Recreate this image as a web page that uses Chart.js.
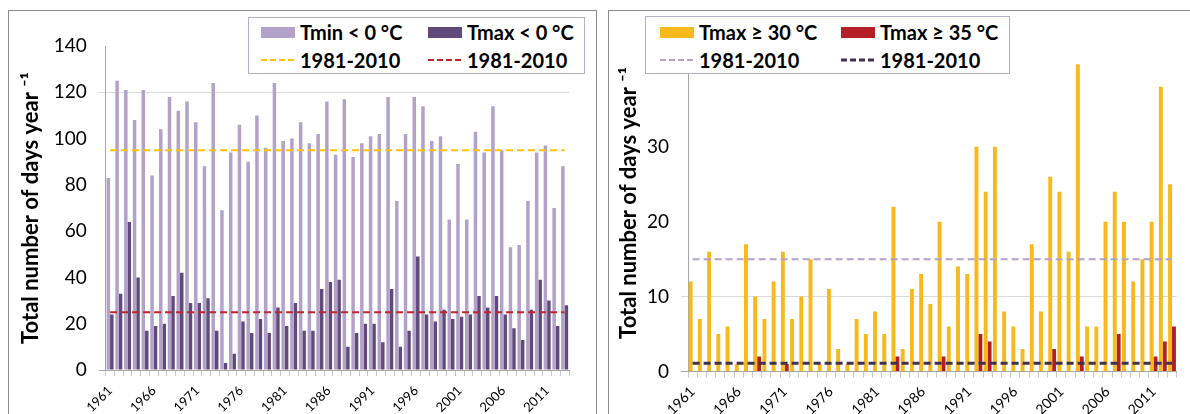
<!DOCTYPE html>
<html>
<head>
<meta charset="utf-8">
<script src="https://cdn.jsdelivr.net/npm/chart.js@4.4.0/dist/chart.umd.min.js"></script>
<style>
body { margin:0; background:#fff; width:1190px; height:414px; overflow:hidden; position:relative; font-family:Lato, sans-serif; }
.frame { position:absolute; border:1px solid #8c8c8c; box-sizing:border-box; }
#frameL { left:8px; top:10px; width:589px; height:430px; }
#frameR { left:608px; top:10px; width:600px; height:430px; }
canvas { position:absolute; }
#cL { left:9px; top:11px; }
#cR { left:609px; top:11px; }
.legend { position:absolute; background:#fff; border:1px solid #b7accb; box-sizing:border-box; font:bold 20px Lato, sans-serif; color:#000; }
.item { position:absolute; height:24px; display:flex; align-items:center; white-space:nowrap; }
.sw { width:34px; height:11px; margin-right:5px; }
.item svg { margin-right:5px; }
</style>
</head>
<body>
<div class="frame" id="frameL"></div>
<div class="frame" id="frameR"></div>
<canvas id="cL" width="586" height="403"></canvas>
<canvas id="cR" width="581" height="403"></canvas>

<div class="legend" style="left:248px;top:17px;width:337px;height:57px;">
  <div class="item" style="left:12px;top:2px;"><div class="sw" style="background:#B3A2C7"></div>Tmin &lt; 0 °C</div>
  <div class="item" style="left:179px;top:2px;"><div class="sw" style="background:#604A7B"></div>Tmax &lt; 0 °C</div>
  <div class="item" style="left:12px;top:30px;"><svg width="34" height="4"><line x1="0" y1="2" x2="34" y2="2" stroke="#FFC000" stroke-width="2" stroke-dasharray="6,3"/></svg>1981-2010</div>
  <div class="item" style="left:179px;top:30px;"><svg width="34" height="4"><line x1="0" y1="2" x2="34" y2="2" stroke="#C0262E" stroke-width="2" stroke-dasharray="6,3"/></svg>1981-2010</div>
</div>
<div class="legend" style="left:645px;top:16px;width:365px;height:58px;">
  <div class="item" style="left:14px;top:3px;"><div class="sw" style="background:#F7B91C"></div>Tmax ≥ 30 °C</div>
  <div class="item" style="left:195px;top:3px;"><div class="sw" style="background:#B41F26"></div>Tmax ≥ 35 °C</div>
  <div class="item" style="left:14px;top:31px;"><svg width="34" height="4"><line x1="0" y1="2" x2="34" y2="2" stroke="#B3A2C7" stroke-width="2" stroke-dasharray="6,3"/></svg>1981-2010</div>
  <div class="item" style="left:195px;top:31px;"><svg width="34" height="4"><line x1="0" y1="2" x2="34" y2="2" stroke="#403152" stroke-width="3" stroke-dasharray="6,3"/></svg>1981-2010</div>
</div>

<script>
years = ['1961','1962','1963','1964','1965','1966','1967','1968','1969','1970',
         '1971','1972','1973','1974','1975','1976','1977','1978','1979','1980',
         '1981','1982','1983','1984','1985','1986','1987','1988','1989','1990',
         '1991','1992','1993','1994','1995','1996','1997','1998','1999','2000',
         '2001','2002','2003','2004','2005','2006','2007','2008','2009','2010',
         '2011','2012','2013']

// frost days (Tmin < 0) and ice days (Tmax < 0)
tminBelow0 = [83,125,121,108,121,84,104,118,112,116,
              107,88,124,69,94,106,90,110,96,124,
              99,100,107,98,102,116,93,117,92,98,
              101,102,118,73,102,118,114,99,101,65,
              89,65,103,94,114,95,53,54,73,94,
              97,70,88]
tmaxBelow0 = [24,33,64,40,17,19,20,32,42,29,
              29,31,17,3,7,21,16,22,16,27,
              19,29,17,17,35,38,39,10,16,20,
              20,12,35,10,17,49,24,21,26,22,
              23,24,32,27,32,24,18,13,26,39,
              30,19,28]

// summer days (Tmax >= 30) and hot days (Tmax >= 35)
tmaxAbove30 = [12,7,16,5,6,1,17,10,7,12,
               16,7,10,15,1,11,3,1,7,5,
               8,5,22,3,11,13,9,20,6,14,
               13,30,24,30,8,6,3,17,8,26,
               24,16,41,6,6,20,24,20,12,15,
               20,38,25]
tmaxAbove35 = [0,0,0,0,0,0,0,2,0,0,
               1,0,0,0,0,0,0,0,0,0,
               0,0,2,0,0,0,0,2,0,0,
               0,5,4,0,0,0,0,0,0,3,
               0,0,2,0,0,0,5,0,0,0,
               2,4,6]

// 1981-2010 averages
normTmin = 95
normTmaxCold = 25
normTmax30 = 15
normTmax35 = 1.1

yTitle = 'Total number of days year \u207B\u00B9'

function refLine(val, color, width) {
    return {
        type: 'line',
        data: [{x: years[0], y: val}, {x: years[years.length - 1], y: val}],
        borderColor: color,
        borderWidth: width,
        borderDash: [7, 4],
        pointRadius: 0,
        fill: false,
        order: 0
    }
}

function xAxis(h, size, pad) {
    return {
        grid: { display: true, drawOnChartArea: false, offset: true, tickLength: 6, color: '#c8c8c8' },
        border: { color: '#a6a6a6' },
        ticks: {
            autoSkip: false, minRotation: 45, maxRotation: 45, padding: pad,
            color: '#000', font: { family: 'Lato', size: size },
            callback: function (v, i) { return i % 5 === 0 ? years[i] : '' }
        },
        afterFit: function (s) { s.height = h }
    }
}

function yAxis(max, step, w, gridAt, titlePad, show) {
    return {
        min: 0, max: max,
        grid: {
            tickLength: 7,
            color: function (c) { return c.tick && c.tick.value === gridAt ? '#d9d9d9' : 'rgba(0,0,0,0)' },
            tickColor: function (c) {
                if (!c.tick) return 'rgba(0,0,0,0)'
                if (c.tick.value === 0) return '#a6a6a6'
                if (c.tick.value === gridAt) return '#d9d9d9'
                return 'rgba(0,0,0,0)'
            }
        },
        border: { color: '#a6a6a6' },
        ticks: {
            stepSize: step, padding: 12, color: '#000',
            font: { family: 'Lato', size: 19 },
            callback: function (v) { return v <= show ? v : '' }
        },
        title: {
            display: true, text: yTitle, color: '#000',
            font: { family: 'Lato', size: 22, weight: 'bold' },
            padding: { top: titlePad, bottom: 0 }
        },
        afterFit: function (s) { s.width = w }
    }
}

new Chart(document.getElementById('cL'), {
    type: 'bar',
    data: {
        labels: years,
        datasets: [
            { label: 'Tmin < 0 °C', data: tminBelow0, backgroundColor: '#B3A2C7', order: 1,
              categoryPercentage: 0.8, barPercentage: 1.0 },
            { label: 'Tmax < 0 °C', data: tmaxBelow0, backgroundColor: '#604A7B', order: 1,
              categoryPercentage: 0.8, barPercentage: 1.0 },
            refLine(normTmin, '#FFC000', 2),
            refLine(normTmaxCold, '#C0262E', 2)
        ]
    },
    options: {
        responsive: false,
        animation: false,
        devicePixelRatio: 1,
        layout: { padding: { top: 35, right: 26, left: 0, bottom: 0 } },
        plugins: { legend: { display: false }, tooltip: { enabled: false } },
        scales: {
            x: xAxis(44, 13, 7),
            y: yAxis(140, 20, 96.7, 120, 9, 140)
        }
    }
});

new Chart(document.getElementById('cR'), {
    type: 'bar',
    data: {
        labels: years,
        datasets: [
            { label: 'Tmax ≥ 30 °C', data: tmaxAbove30, backgroundColor: '#F7B91C', order: 1,
              categoryPercentage: 0.85, barPercentage: 1.0 },
            { label: 'Tmax ≥ 35 °C', data: tmaxAbove35, backgroundColor: '#B41F26', order: 1,
              categoryPercentage: 0.85, barPercentage: 1.0 },
            refLine(normTmax30, '#B3A2C7', 2),
            refLine(normTmax35, '#403152', 3)
        ]
    },
    options: {
        responsive: false,
        animation: false,
        devicePixelRatio: 1,
        layout: { padding: { top: 17, right: 11, left: 0, bottom: 0 } },
        plugins: { legend: { display: false }, tooltip: { enabled: false } },
        scales: {
            x: xAxis(42.5, 14, 6),
            y: yAxis(45, 10, 79, 10, 7, 30)
        }
    }
});
</script>
</body>
</html>
